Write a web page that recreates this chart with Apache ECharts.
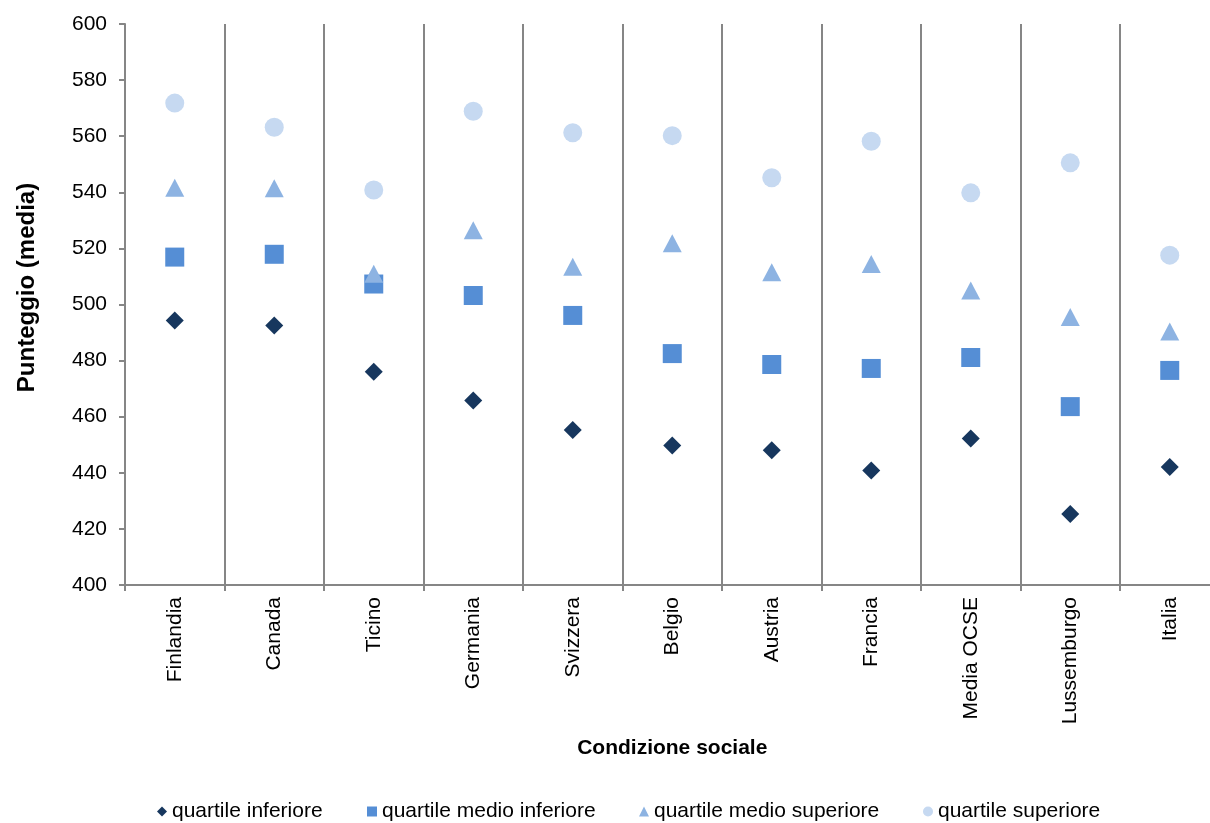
<!DOCTYPE html>
<html>
<head>
<meta charset="utf-8">
<script src="https://cdn.jsdelivr.net/npm/echarts@6/dist/echarts.min.js"></script>
<style>html,body{margin:0;padding:0;background:#fff;overflow:hidden;width:1210px;height:823px;}#c{width:1222px;height:823px;}</style>
</head>
<body>
<div id="c"></div>
<script>
const categories = ['Finlandia','Canada','Ticino','Germania','Svizzera','Belgio','Austria','Francia','Media OCSE','Lussemburgo','Italia'];
const seriesNames = ['quartile inferiore','quartile medio inferiore','quartile medio superiore','quartile superiore'];
const qInferiore = [494.3, 492.5, 476.0, 465.8, 455.3, 449.7, 448.0, 440.8, 452.2, 425.3, 442.1];
const qMedioInferiore = [516.9, 517.9, 507.3, 503.2, 496.1, 482.5, 478.6, 477.2, 481.1, 463.6, 476.5];
const qMedioSuperiore = [541.6, 541.4, 511.0, 526.5, 513.5, 521.8, 511.5, 514.4, 505.0, 495.5, 490.4];
const qSuperiore = [571.8, 563.2, 540.8, 568.9, 561.2, 560.2, 545.2, 558.2, 539.8, 550.5, 517.6];
const yTicks = {min: 400, max: 600, interval: 20};

const font = 'Liberation Sans, Arial, sans-serif';
const colors = ['#17375E', '#558ED5', '#8DB3E2', '#C6D9F1'];
const symbols = ['diamond', 'rect', 'triangle', 'circle'];
const sizes = [[18,18],[19,19],[19,18],[19,19]];
const legendIcons = ['diamond','rect','triangle','circle'];
const legendLeft = [157, 367, 639, 923];
const dataSets = [qInferiore, qMedioInferiore, qMedioSuperiore, qSuperiore];

const chart = echarts.init(document.getElementById('c'), null, {renderer: 'canvas'});
chart.setOption({
  animation: false,
  grid: {left: 125, width: 1094.5, top: 24, height: 561, containLabel: false},
  legend: seriesNames.map((n, i) => ({
    data: [{name: n, icon: legendIcons[i]}],
    left: legendLeft[i], top: 801, itemWidth: 10, itemHeight: 10, itemGap: 0,
    padding: 0,
    textStyle: {fontFamily: font, fontSize: 21, color: '#000', padding: [0,0,0,0]},
    selectedMode: false
  })),
  graphic: [{
    type: 'text', x: 27, y: 287.5, rotation: Math.PI / 2,
    style: {text: 'Punteggio (media)', font: 'bold 24px ' + font, fill: '#000', textAlign: 'center', textVerticalAlign: 'middle'}
  }],
  xAxis: {
    type: 'category', data: categories, boundaryGap: true,
    name: 'Condizione sociale', nameLocation: 'middle', nameGap: 153,
    nameTextStyle: {fontFamily: font, fontSize: 21, fontWeight: 'bold', color: '#000'},
    axisLine: {lineStyle: {color: '#868686', width: 2}},
    axisTick: {show: true, length: 6, interval: 0, lineStyle: {color: '#868686', width: 2}},
    axisLabel: {rotate: 90, interval: 0, margin: 12, fontFamily: font, fontSize: 21, color: '#000'},
    splitLine: {show: true, interval: 0, lineStyle: {color: '#868686', width: 2}}
  },
  yAxis: {
    type: 'value', min: yTicks.min, max: yTicks.max, interval: yTicks.interval,
    axisLine: {show: true, lineStyle: {color: '#868686', width: 2}},
    axisTick: {show: true, length: 6, lineStyle: {color: '#868686', width: 2}},
    axisLabel: {margin: 18, fontFamily: font, fontSize: 21, color: '#000'},
    splitLine: {show: false}
  },
  series: seriesNames.map((n, i) => ({
    name: n, type: 'scatter', data: dataSets[i],
    symbol: symbols[i], symbolSize: sizes[i],
    itemStyle: {color: colors[i], opacity: 1},
    z: 2 + i
  }))
});
</script>
</body>
</html>
